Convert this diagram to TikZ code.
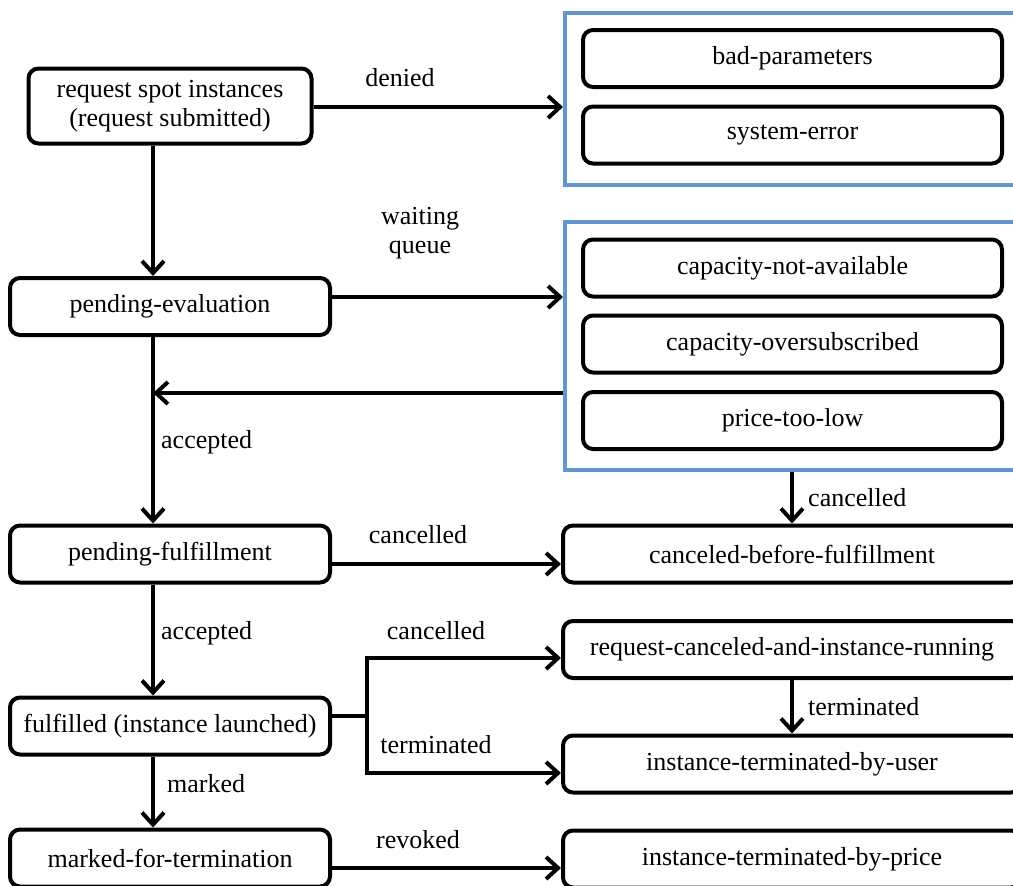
\documentclass[tikz,border=0pt]{standalone}
\usepackage{fontspec}
\setmainfont{Liberation Serif}
\usetikzlibrary{arrows.meta}
\definecolor{frameblue}{RGB}{100,150,205}
\begin{document}
\begin{tikzpicture}[x=1pt,y=-1pt,
  txt/.style={font=\fontsize{26}{29}\selectfont},
  state/.style={txt, draw, line width=4pt, rounded corners=10pt, align=center, inner sep=0pt, fill=white},
  lbl/.style={txt, inner sep=0pt},
  arr/.style={line width=4pt, -{Straight Barb[length=12pt,width=22pt]}},
  plain/.style={line width=4pt},
  grp/.style={draw=frameblue, line width=3.5pt, inner sep=0pt, anchor=north west},
]
\useasboundingbox (0,0) rectangle (1013,886);
\fill[white] (0,0) rectangle (1013,886);

% groups
\node[grp, minimum width=467pt, minimum height=172pt] (g1) at (563,11) {};
\node[grp, minimum width=467pt, minimum height=248pt] (g2) at (563,220) {};

% left column
\node[state, minimum width=283pt, minimum height=75pt] (req) at (170,106) {request spot instances\\(request submitted)};
\node[state, minimum width=320pt, minimum height=57pt] (peval) at (170,306.5) {pending-evaluation};
\node[state, minimum width=320pt, minimum height=57pt] (pful) at (170,554) {pending-fulfillment};
\node[state, minimum width=320pt, minimum height=57pt] (fulf) at (170,726) {fulfilled (instance launched)};
\node[state, minimum width=320pt, minimum height=57pt] (mark) at (170,858) {marked-for-termination};

% inner group boxes
\node[state, minimum width=419pt, minimum height=57pt] (bad) at (792.5,58.5) {bad-parameters};
\node[state, minimum width=419pt, minimum height=57pt] (sys) at (792.5,135) {system-error};
\node[state, minimum width=419pt, minimum height=57pt] (cna) at (792.5,268) {capacity-not-available};
\node[state, minimum width=419pt, minimum height=57pt] (cos) at (792.5,344) {capacity-oversubscribed};
\node[state, minimum width=419pt, minimum height=57pt] (ptl) at (792.5,420.5) {price-too-low};

% right column
\node[state, minimum width=458pt, minimum height=57pt] (cbf) at (792,554) {canceled-before-fulfillment};
\node[state, minimum width=458pt, minimum height=57pt] (rcir) at (792,649.5) {request-canceled-and-instance-running};
\node[state, minimum width=458pt, minimum height=57pt] (itu) at (792,764) {instance-terminated-by-user};
\node[state, minimum width=458pt, minimum height=57pt] (itp) at (792,859) {instance-terminated-by-price};

% helper coordinates
\coordinate (vx) at (153,0);
\coordinate (dn) at (0,107);
\coordinate (wq) at (0,297);
\coordinate (bk) at (0,393);
\coordinate (pf) at (0,564);
\coordinate (br) at (367,716);
\coordinate (bt) at (367,658);
\coordinate (bb) at (367,773);
\coordinate (rv) at (0,868);

% connectors
\draw[arr] (req.south -| vx) -- (peval.north -| vx);
\draw[arr] (peval.south -| vx) -- (pful.north -| vx);
\draw[arr] (pful.south -| vx) -- (fulf.north -| vx);
\draw[arr] (fulf.south -| vx) -- (mark.north -| vx);

\draw[arr] (req.east |- dn) -- (g1.west |- dn);
\draw[arr] (peval.east |- wq) -- (g2.west |- wq);
\draw[arr] (g2.west |- bk) -- (vx |- bk);
\draw[arr] (g2.south -| cbf.north) -- (cbf.north);
\draw[arr] (pful.east |- pf) -- (cbf.west |- pf);
\draw[plain] (fulf.east |- br) -- (br);
\draw[arr] (br) -- (bt) -- (rcir.west |- bt);
\draw[arr] (br) -- (bb) -- (itu.west |- bb);
\draw[arr] (rcir.south) -- (itu.north);
\draw[arr] (mark.east |- rv) -- (itp.west |- rv);

% labels
\node[lbl, anchor=base] (l1) at (400,86) {denied};
\node[lbl, anchor=base, align=center] (l2) at (420,253) {waiting\\queue};
\node[lbl, anchor=base west] (l3) at (161,448) {accepted};
\node[lbl, anchor=base west] (l4) at (808,506) {cancelled};
\node[lbl, anchor=base] (l5) at (418,543) {cancelled};
\node[lbl, anchor=base west] (l6) at (161,639) {accepted};
\node[lbl, anchor=base] (l7) at (436,639) {cancelled};
\node[lbl, anchor=base west] (l8) at (808,715) {terminated};
\node[lbl, anchor=base] (l9) at (436,753) {terminated};
\node[lbl, anchor=base west] (l10) at (167,792) {marked};
\node[lbl, anchor=base] (l11) at (418,848) {revoked};
\end{tikzpicture}
\end{document}
